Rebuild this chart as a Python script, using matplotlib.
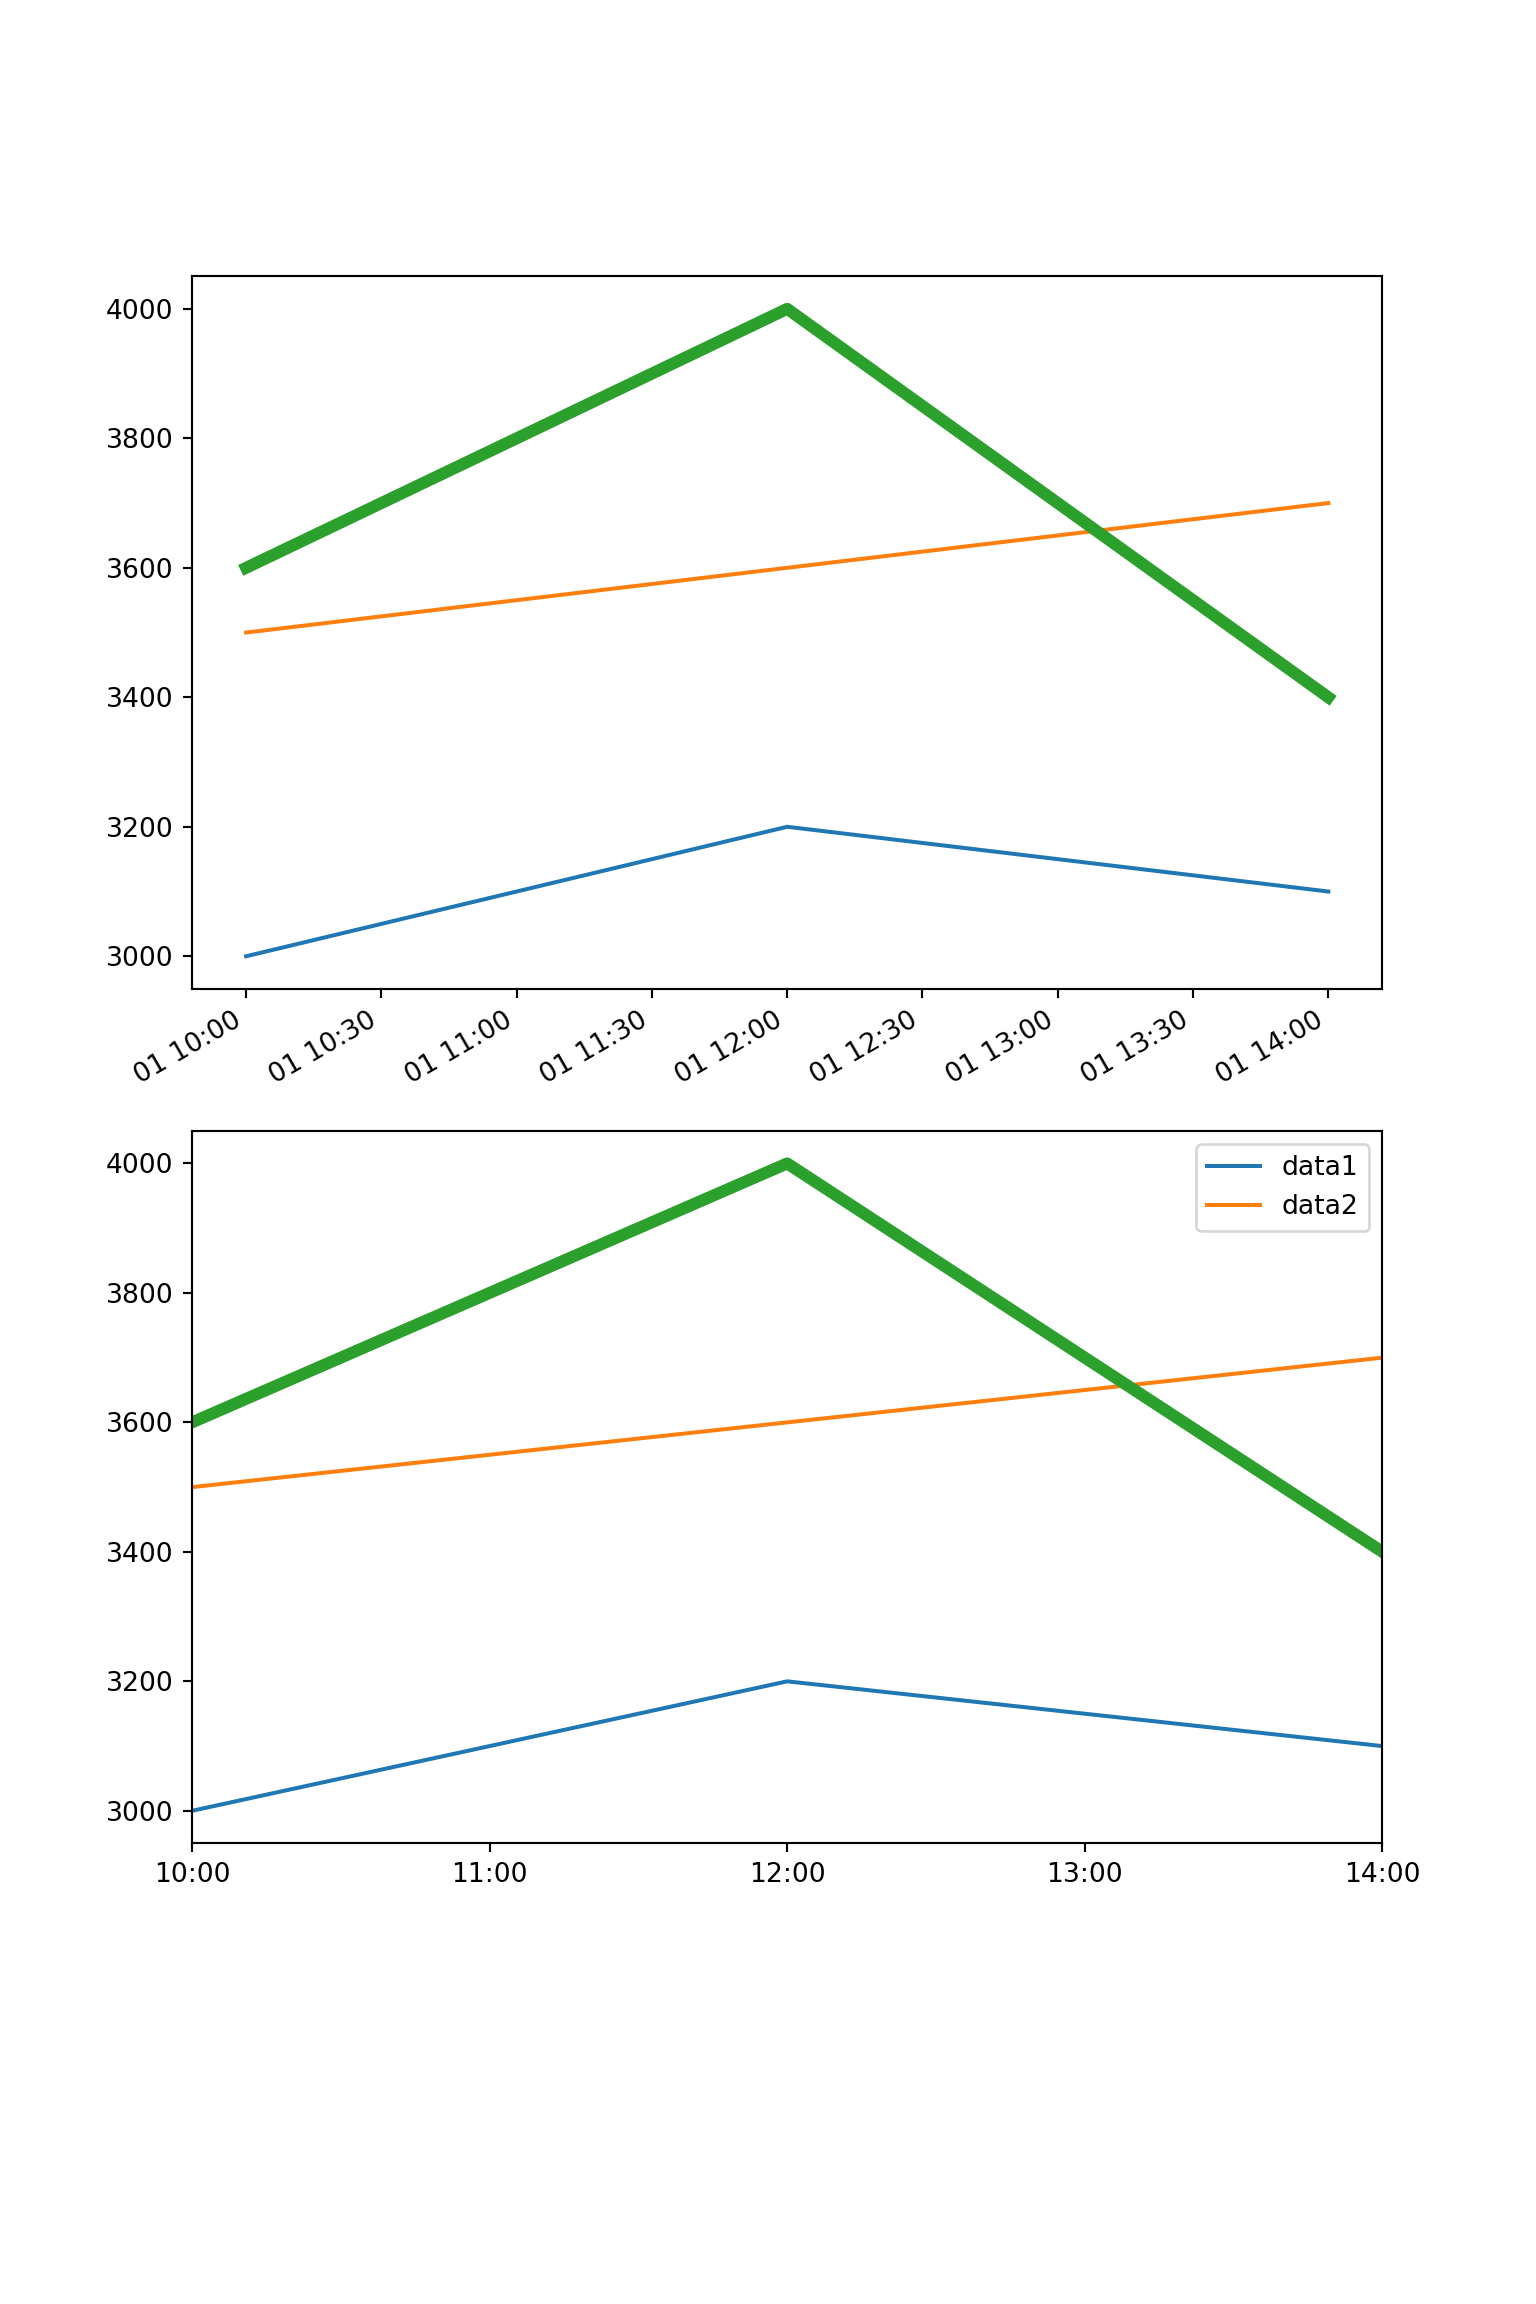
import numpy as np
import pandas as pd
import matplotlib
matplotlib.use('Agg')
import matplotlib.pyplot as plt
import matplotlib.dates as mdates

##データ
times = pd.to_datetime(['2020-01-01 10:00', '2020-01-01 12:00', '2020-01-01 14:00'])
data1 = [3000, 3200, 3100]
data2 = [3500, 3600, 3700]
data3 = [3600, 4000, 3400]

fig = plt.figure(figsize=(8, 12), dpi=192)

#上段：デフォルトの日付表示
ax1 = fig.add_subplot(211)
ax1.plot(times, data1)
ax1.plot(times, data2)
ax1.plot(times, data3, lw=4.5)
fig.autofmt_xdate()

#下段：時刻のみ表示
ax2 = fig.add_subplot(212)
ax2.plot(times, data1, label='data1')
ax2.plot(times, data2, label='data2')
ax2.plot(times, data3, lw=4.5)
ax2.set_xlim(times[0], times[-1])
ax2.xaxis.set_major_locator(mdates.HourLocator())
ax2.xaxis.set_major_formatter(mdates.DateFormatter('%H:%M'))
ax2.legend()

fig.savefig('out.png')
